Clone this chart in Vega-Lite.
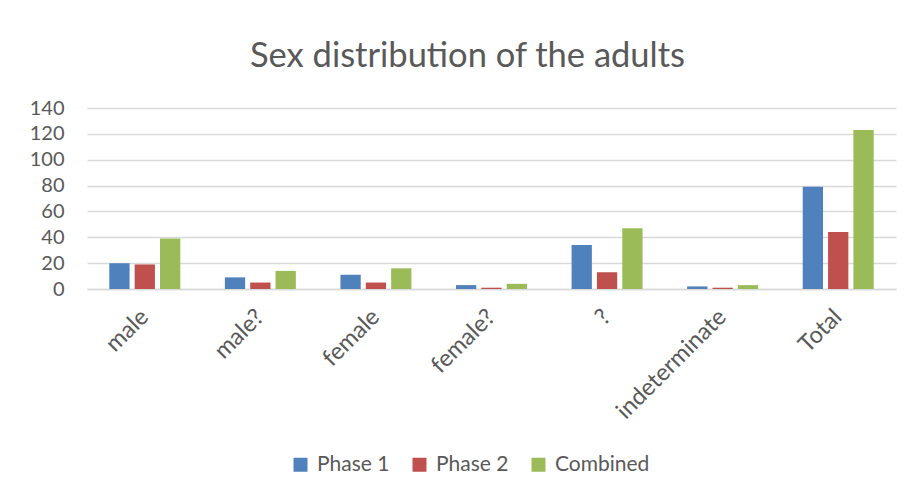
{
  "$schema": "https://vega.github.io/schema/vega-lite/v6.json",
  "width": 809,
  "height": 181,
  "autosize": {"type": "none"},
  "padding": {"left": 87, "top": 108, "right": 16, "bottom": 209},
  "background": "white",
  "title": {
    "text": "Sex distribution of the adults",
    "font": "Lato",
    "fontSize": 34.5,
    "fontWeight": "normal",
    "color": "#595959",
    "anchor": "middle",
    "baseline": "alphabetic",
    "offset": -3,
    "dx": -24
  },
  "data": {
    "values": [
      {"category": "male", "series": "Phase 1", "value": 20},
      {"category": "male", "series": "Phase 2", "value": 19},
      {"category": "male", "series": "Combined", "value": 39},
      {"category": "male?", "series": "Phase 1", "value": 9},
      {"category": "male?", "series": "Phase 2", "value": 5},
      {"category": "male?", "series": "Combined", "value": 14},
      {"category": "female", "series": "Phase 1", "value": 11},
      {"category": "female", "series": "Phase 2", "value": 5},
      {"category": "female", "series": "Combined", "value": 16},
      {"category": "female?", "series": "Phase 1", "value": 3},
      {"category": "female?", "series": "Phase 2", "value": 1},
      {"category": "female?", "series": "Combined", "value": 4},
      {"category": "?", "series": "Phase 1", "value": 34},
      {"category": "?", "series": "Phase 2", "value": 13},
      {"category": "?", "series": "Combined", "value": 47},
      {"category": "indeterminate", "series": "Phase 1", "value": 2},
      {"category": "indeterminate", "series": "Phase 2", "value": 1},
      {"category": "indeterminate", "series": "Combined", "value": 3},
      {"category": "Total", "series": "Phase 1", "value": 79},
      {"category": "Total", "series": "Phase 2", "value": 44},
      {"category": "Total", "series": "Combined", "value": 123}
    ]
  },
  "mark": {"type": "bar"},
  "encoding": {
    "x": {
      "field": "category",
      "type": "nominal",
      "sort": ["male", "male?", "female", "female?", "?", "indeterminate", "Total"],
      "scale": {"paddingInner": 0.386, "paddingOuter": 0.193},
      "axis": {
        "title": null,
        "labelAngle": -45,
        "labelAlign": "right",
        "labelBaseline": "middle",
        "labelFont": "Lato",
        "labelFontSize": 23.5,
        "labelColor": "#595959",
        "labelPadding": 24,
        "ticks": false,
        "domainColor": "#d9d9d9",
        "domainWidth": 1.5,
        "grid": false
      }
    },
    "xOffset": {
      "field": "series",
      "type": "nominal",
      "sort": ["Phase 1", "Phase 2", "Combined"],
      "scale": {"paddingInner": 0.2, "paddingOuter": 0}
    },
    "y": {
      "field": "value",
      "type": "quantitative",
      "scale": {"domain": [0, 140], "nice": false},
      "axis": {
        "title": null,
        "values": [0, 20, 40, 60, 80, 100, 120, 140],
        "labelFont": "Lato",
        "labelFontSize": 20,
        "labelColor": "#595959",
        "labelPadding": 23,
        "ticks": false,
        "domain": false,
        "gridColor": "#d9d9d9",
        "gridWidth": 1.3
      }
    },
    "color": {
      "field": "series",
      "type": "nominal",
      "sort": ["Phase 1", "Phase 2", "Combined"],
      "scale": {"domain": ["Phase 1", "Phase 2", "Combined"], "range": ["#4f81bd", "#c0504d", "#9bbb59"]},
      "legend": {
        "title": null,
        "orient": "none",
        "legendX": 203,
        "legendY": 346,
        "padding": 0,
        "direction": "horizontal",
        "symbolType": "square",
        "symbolSize": 196,
        "symbolStrokeWidth": 0,
        "labelFont": "Lato",
        "labelFontSize": 21,
        "labelColor": "#595959",
        "labelOffset": 6,
        "columnPadding": 19
      }
    }
  },
  "config": {
    "view": {"stroke": null}
  }
}
